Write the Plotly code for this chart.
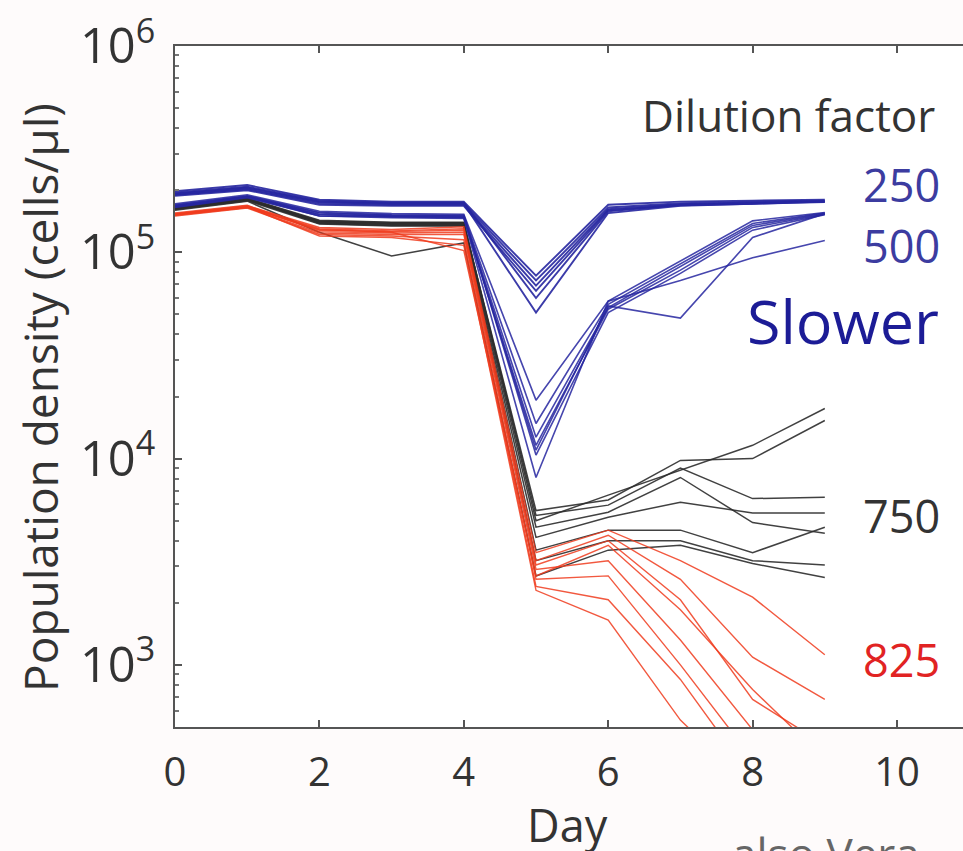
import plotly.graph_objects as go

days = [0, 1, 2, 3, 4, 5, 6, 7, 8, 9]

# Dilution factor 250 (blue, fast recovery)
d250 = [
    [1.98e5, 2.12e5, 1.80e5, 1.76e5, 1.76e5, 7.7e4, 1.70e5, 1.76e5, 1.78e5, 1.80e5],
    [1.93e5, 2.06e5, 1.76e5, 1.73e5, 1.73e5, 7.3e4, 1.65e5, 1.73e5, 1.76e5, 1.78e5],
    [1.90e5, 2.02e5, 1.73e5, 1.70e5, 1.70e5, 6.9e4, 1.62e5, 1.71e5, 1.74e5, 1.76e5],
    [1.88e5, 2.00e5, 1.70e5, 1.68e5, 1.68e5, 6.5e4, 1.60e5, 1.69e5, 1.72e5, 1.75e5],
    [1.95e5, 2.08e5, 1.78e5, 1.74e5, 1.74e5, 6.0e4, 1.58e5, 1.70e5, 1.73e5, 1.77e5],
    [1.91e5, 2.04e5, 1.75e5, 1.72e5, 1.72e5, 5.1e4, 1.55e5, 1.68e5, 1.72e5, 1.76e5],
]

# Dilution factor 500 (blue, slower recovery)
d500 = [
    [1.72e5, 1.90e5, 1.58e5, 1.54e5, 1.53e5, 1.92e4, 5.8e4, 9.1e4, 1.42e5, 1.56e5],
    [1.70e5, 1.88e5, 1.56e5, 1.52e5, 1.51e5, 1.48e4, 5.6e4, 8.8e4, 1.38e5, 1.55e5],
    [1.68e5, 1.86e5, 1.53e5, 1.50e5, 1.49e5, 1.27e4, 5.4e4, 8.5e4, 1.35e5, 1.54e5],
    [1.66e5, 1.85e5, 1.50e5, 1.48e5, 1.47e5, 1.16e4, 5.3e4, 8.2e4, 1.32e5, 1.53e5],
    [1.69e5, 1.87e5, 1.55e5, 1.51e5, 1.50e5, 1.04e4, 5.1e4, 7.9e4, 1.28e5, 1.52e5],
    [1.67e5, 1.86e5, 1.52e5, 1.49e5, 1.48e5, 1.10e4, 5.5e4, 4.8e4, 1.18e5, 1.54e5],
    [1.65e5, 1.84e5, 1.50e5, 1.47e5, 1.46e5, 8.1e3, 5.8e4, 7.3e4, 9.4e4, 1.14e5],
]

# Dilution factor 750 (black)
d750 = [
    [1.66e5, 1.83e5, 1.43e5, 1.40e5, 1.40e5, 5.0e3, 6.65e3, 8.8e3, 1.16e4, 1.75e4],
    [1.64e5, 1.81e5, 1.41e5, 1.38e5, 1.38e5, 5.6e3, 6.3e3, 9.8e3, 1.0e4, 1.53e4],
    [1.65e5, 1.82e5, 1.42e5, 1.39e5, 1.39e5, 5.3e3, 5.95e3, 9.0e3, 6.4e3, 6.5e3],
    [1.63e5, 1.80e5, 1.40e5, 1.37e5, 1.37e5, 4.65e3, 5.5e3, 8.1e3, 4.9e3, 4.35e3],
    [1.62e5, 1.79e5, 1.39e5, 1.36e5, 1.36e5, 4.15e3, 5.2e3, 6.15e3, 5.45e3, 5.45e3],
    [1.64e5, 1.81e5, 1.38e5, 1.35e5, 1.35e5, 3.6e3, 4.5e3, 4.5e3, 3.5e3, 4.65e3],
    [1.61e5, 1.78e5, 1.37e5, 1.34e5, 1.34e5, 3.2e3, 4.0e3, 4.0e3, 3.2e3, 3.05e3],
    [1.60e5, 1.77e5, 1.25e5, 9.6e4, 1.11e5, 2.7e3, 3.6e3, 3.8e3, 3.1e3, 2.65e3],
]

# Dilution factor 825 (red, collapse)
d825 = [
    [1.54e5, 1.68e5, 1.32e5, 1.29e5, 1.33e5, 3.5e3, 4.5e3, 3.2e3, 2.13e3, 1.12e3],
    [1.53e5, 1.67e5, 1.30e5, 1.27e5, 1.30e5, 3.2e3, 4.25e3, 2.6e3, 1.09e3, 6.8e2],
    [1.52e5, 1.66e5, 1.28e5, 1.26e5, 1.28e5, 3.05e3, 4.0e3, 2.07e3, 6.8e2, 4.1e2],
    [1.55e5, 1.69e5, 1.26e5, 1.24e5, 1.25e5, 2.9e3, 3.2e3, 1.32e3, 4.85e2, 3.0e2],
    [1.51e5, 1.65e5, 1.24e5, 1.22e5, 1.22e5, 2.6e3, 2.7e3, 1.0e3, 3.5e2, 2.0e2],
    [1.50e5, 1.64e5, 1.22e5, 1.20e5, 1.15e5, 2.4e3, 2.07e3, 8.5e2, 2.8e2, 2.0e2],
    [1.53e5, 1.66e5, 1.20e5, 1.18e5, 1.08e5, 2.3e3, 1.65e3, 5.4e2, 2.5e2, 2.0e2],
    [1.52e5, 1.65e5, 1.29e5, 1.25e5, 1.02e5, 2.7e3, 3.8e3, 1.85e3, 7.6e2, 3.5e2],
]

x_ticks = [0, 2, 4, 6, 8, 10]

BLUE = "rgb(38,38,160)"
BLACK = "rgb(45,45,45)"
RED = "rgb(240,60,30)"

fig = go.Figure()

def add_group(data, color, width, opacity=1.0):
    for s in data:
        fig.add_trace(go.Scatter(x=days, y=s, mode="lines",
                                 line=dict(color=color, width=width),
                                 opacity=opacity, showlegend=False,
                                 hoverinfo="skip"))

add_group(d750, BLACK, 1.5, 0.9)
add_group(d825, RED, 1.4, 0.85)
add_group(d500, BLUE, 1.6, 0.85)
add_group(d250, BLUE, 1.9, 0.9)

FONT = "Open Sans"
TXT = "#333333"

fig.update_layout(
    width=963, height=851, autosize=False,
    margin=dict(l=175, r=0, t=46, b=124, pad=0),
    paper_bgcolor="#fefbfb", plot_bgcolor="#ffffff",
    font=dict(family=FONT, color=TXT),
    showlegend=False,
)

fig.update_xaxes(
    range=[0, 10.914], tickvals=x_ticks, ticktext=[str(v) for v in x_ticks],
    showgrid=False, zeroline=False,
    showline=True, linecolor="#555555", linewidth=2, mirror="ticks",
    ticks="inside", ticklen=7, tickwidth=1.5, tickcolor="#555555",
    tickfont=dict(size=40, color=TXT, family=FONT), ticklabelstandoff=9,
)

fig.update_yaxes(
    type="log", range=[2.699, 6.0], dtick=1,
    exponentformat="power", showexponent="all",
    showgrid=False, zeroline=False,
    showline=True, linecolor="#555555", linewidth=2,
    ticks="inside", ticklen=7, tickwidth=1.5, tickcolor="#555555",
    minor=dict(ticks="inside", ticklen=4, tickcolor="#777777", dtick="D1", showgrid=False),
    tickfont=dict(size=39, color=TXT, family=FONT), ticklabelstandoff=10,
)

def px_to_paper(px, py):
    return (px - 175) / 788.0, (727 - py) / 681.0

annots = [
    ("Dilution factor", 640, 115, 44, TXT, "left"),
    ("250", 861, 184, 45, "rgb(60,60,160)", "left"),
    ("500", 861, 246, 45, "rgb(60,60,160)", "left"),
    ("Slower", 745, 320, 61, "rgb(28,28,150)", "left"),
    ("750", 861, 515, 45, TXT, "left"),
    ("825", 861, 659, 45, "rgb(225,35,35)", "left"),
    ("Day", 567, 824, 45, TXT, "center"),
    ("also Vera", 730, 853, 44, "#666666", "left"),
]
for text, px, py, size, color, anchor in annots:
    xp, yp = px_to_paper(px, py)
    fig.add_annotation(text=text, x=xp, y=yp, xref="paper", yref="paper",
                       xanchor=anchor, yanchor="middle", showarrow=False,
                       font=dict(size=size, color=color, family=FONT))

xp, yp = px_to_paper(40, 398)
fig.add_annotation(text="Population density (cells/µl)", x=xp, y=yp,
                   xref="paper", yref="paper", textangle=-90,
                   xanchor="center", yanchor="middle", showarrow=False,
                   font=dict(size=46, color=TXT, family=FONT))

fig.write_html("out.html")
